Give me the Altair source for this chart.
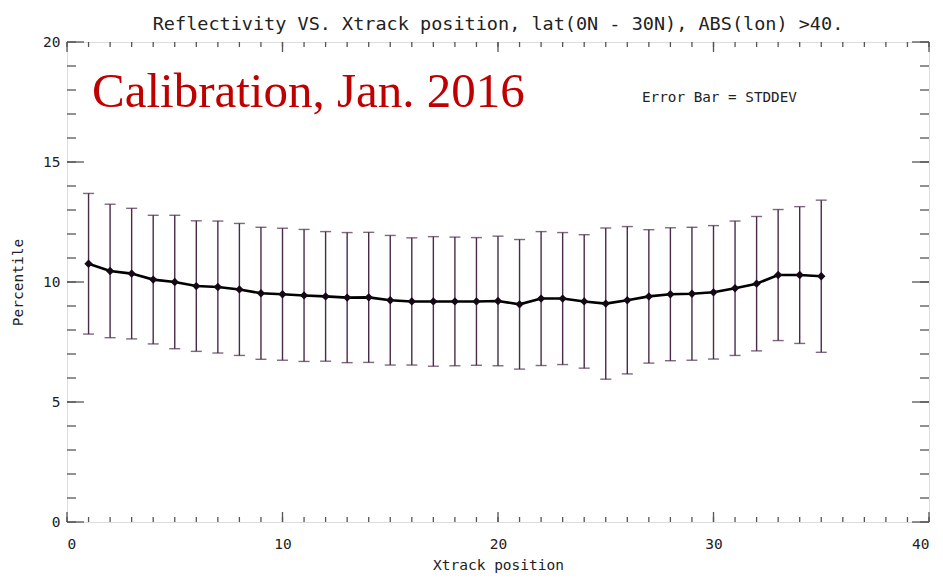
import altair as alt
import pandas as pd

# Cross-track position and the reflectivity statistics at each position
xtrack = list(range(1, 36))
reflect_mean = [10.76, 10.46, 10.35, 10.10, 10.00, 9.83, 9.79, 9.69, 9.53, 9.49,
                9.44, 9.40, 9.35, 9.36, 9.24, 9.19, 9.19, 9.19, 9.19, 9.21,
                9.07, 9.31, 9.31, 9.19, 9.10, 9.24, 9.40, 9.49, 9.51, 9.57,
                9.74, 9.93, 10.29, 10.29, 10.24]
reflect_std = [2.93, 2.78, 2.72, 2.68, 2.78, 2.72, 2.75, 2.75, 2.75, 2.75,
               2.75, 2.70, 2.71, 2.71, 2.70, 2.65, 2.70, 2.68, 2.66, 2.70,
               2.70, 2.79, 2.75, 2.78, 3.15, 3.07, 2.78, 2.77, 2.77, 2.78,
               2.80, 2.80, 2.73, 2.85, 3.17]

# Axis tick positions (labelled majors, unlabelled minors)
x_major = [0, 10, 20, 30, 40]
x_minor = list(range(0, 41))
y_major = [0, 5, 10, 15, 20]
y_minor = list(range(0, 21))

df = pd.DataFrame({"x": xtrack, "mean": reflect_mean, "std": reflect_std})
df["lo"] = df["mean"] - df["std"]
df["hi"] = df["mean"] + df["std"]

W, H = 862, 480
FRAME = "#555555"
TEXT = "#222222"
ERR = "#4a2a4a"
AX_FONT = "DejaVu Sans Mono"

xs = alt.Scale(domain=[0, 40], nice=False, zero=False)
ys = alt.Scale(domain=[0, 20], nice=False, zero=False)

xaxis = alt.Axis(values=x_major, title="Xtrack position", grid=False, domain=False,
                 ticks=False, tickSize=0, labelPadding=15, titlePadding=8,
                 labelFont=AX_FONT, titleFont=AX_FONT, labelFontSize=14.5,
                 titleFontSize=14.5, labelColor=TEXT, titleColor=TEXT,
                 titleFontWeight="normal", format="d")
yaxis = alt.Axis(values=y_major, title="Percentile", grid=False, domain=False,
                 ticks=False, tickSize=0, labelPadding=7, titlePadding=17,
                 labelFont=AX_FONT, titleFont=AX_FONT, labelFontSize=14.5,
                 titleFontSize=14.5, labelColor=TEXT, titleColor=TEXT,
                 titleFontWeight="normal", format="d")


def X(field):
    return alt.X(field, type="quantitative", scale=xs, axis=xaxis)


def Y(field):
    return alt.Y(field, type="quantitative", scale=ys, axis=yaxis)


base = alt.Chart(df)

# Error bars: +/- one standard deviation, with flat caps
bars = base.mark_rule(color=ERR, strokeWidth=1.4).encode(x=X("x"), y=Y("lo"), y2="hi")
cap_lo = base.mark_tick(color=ERR, thickness=1.4, size=11, orient="horizontal").encode(
    x=X("x"), y=Y("lo"))
cap_hi = base.mark_tick(color=ERR, thickness=1.4, size=11, orient="horizontal").encode(
    x=X("x"), y=Y("hi"))

line = base.mark_line(color="#000000", strokeWidth=2.6).encode(x=X("x"), y=Y("mean"))
pts = base.mark_point(shape="diamond", filled=True, size=70, color="#160816",
                      opacity=1).encode(x=X("x"), y=Y("mean"))

# Inward-pointing frame ticks on all four sides
xmin_df = pd.DataFrame({"v": x_minor})
xmaj_df = pd.DataFrame({"v": x_major})
ymin_df = pd.DataFrame({"v": y_minor})
ymaj_df = pd.DataFrame({"v": y_major})


def xticks(data, y0, y1):
    return alt.Chart(data).mark_rule(color=FRAME, strokeWidth=1.3).encode(
        x=X("v"), y=alt.value(y0), y2=alt.value(y1))


def yticks(data, x0, x1):
    return alt.Chart(data).mark_rule(color=FRAME, strokeWidth=1.3).encode(
        y=Y("v"), x=alt.value(x0), x2=alt.value(x1))


frame_ticks = [
    xticks(xmin_df, H, H - 5), xticks(xmaj_df, H, H - 10),
    xticks(xmin_df, 0, 5), xticks(xmaj_df, 0, 10),
    yticks(ymin_df, 0, 9), yticks(ymaj_df, 0, 17),
    yticks(ymin_df, W, W - 9), yticks(ymaj_df, W, W - 17),
]

label_df = pd.DataFrame({"t": ["Calibration, Jan. 2016"]})
calib = alt.Chart(label_df).mark_text(
    font="Liberation Serif", fontSize=49, color="#c00000", align="left",
    baseline="alphabetic").encode(text="t:N", x=alt.value(25), y=alt.value(65))

note_df = pd.DataFrame({"t": ["Error Bar = STDDEV"]})
note = alt.Chart(note_df).mark_text(
    font=AX_FONT, fontSize=14.3, color=TEXT, align="left",
    baseline="middle").encode(text="t:N", x=alt.value(575), y=alt.value(56))

chart = alt.layer(
    *frame_ticks, bars, cap_lo, cap_hi, line, pts, calib, note
).properties(
    width=W, height=H,
    title=alt.TitleParams(
        "Reflectivity VS. Xtrack position, lat(0N - 30N), ABS(lon) >40.",
        font=AX_FONT, fontSize=18.5, fontWeight="normal", color=TEXT,
        anchor="middle", offset=1),
    padding={"left": 67, "top": 42, "right": 14, "bottom": 62},
    autosize=alt.AutoSizeParams(type="none"),
).configure_view(
    stroke=FRAME, strokeWidth=1.5
).configure(background="white")

chart.save("out.html", embed_options={"renderer": "svg", "actions": False})
